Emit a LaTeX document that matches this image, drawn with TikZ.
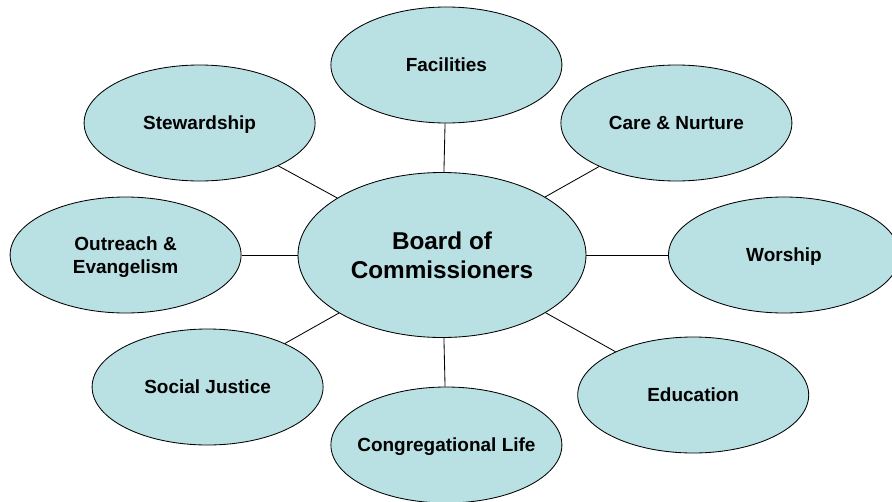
\documentclass[tikz,border=0pt]{standalone}
\usepackage{fontspec}
\setmainfont{Liberation Sans}
\usetikzlibrary{shapes.geometric}
\definecolor{bubble}{RGB}{185,224,227}
\begin{document}
\begin{tikzpicture}[every node/.style={ellipse, draw, fill=bubble, line width=0.6pt, inner sep=0pt, align=center},
    team/.style={minimum width=5.775cm, minimum height=2.9cm, inner xsep=-0.3cm, text depth=0pt, font=\fontsize{13.5}{16.2}\selectfont\bfseries},
    hub/.style={minimum width=7.2cm, minimum height=4.125cm, font=\fontsize{17.3}{20.8}\selectfont\bfseries}]
      \useasboundingbox (0,0) rectangle (22.3,-12.55);
      \node (board) at (11.05,-6.375) [hub] {Board of\\Commissioners};
      \node (fac) at (11.16,-1.625) [team] {Facilities};
      \node (stew) at (4.99,-3.075) [team] {Stewardship};
      \node (care) at (16.91,-3.075) [team] {Care \& Nurture};
      \node (outr) at (3.14,-6.375) [team] {Outreach \&\\Evangelism};
      \node (wor) at (19.6,-6.375) [team] {Worship};
      \node (soc) at (5.19,-9.675) [team] {Social Justice};
      \node (edu) at (17.33,-9.875) [team] {Education};
      \node (cong) at (11.16,-11.125) [team] {Congregational Life};
      \foreach \dest in {fac, stew, care, outr, wor, soc, edu, cong}
        \draw[line width=0.6pt] (board) -- (\dest);
    \end{tikzpicture}
\end{document}
